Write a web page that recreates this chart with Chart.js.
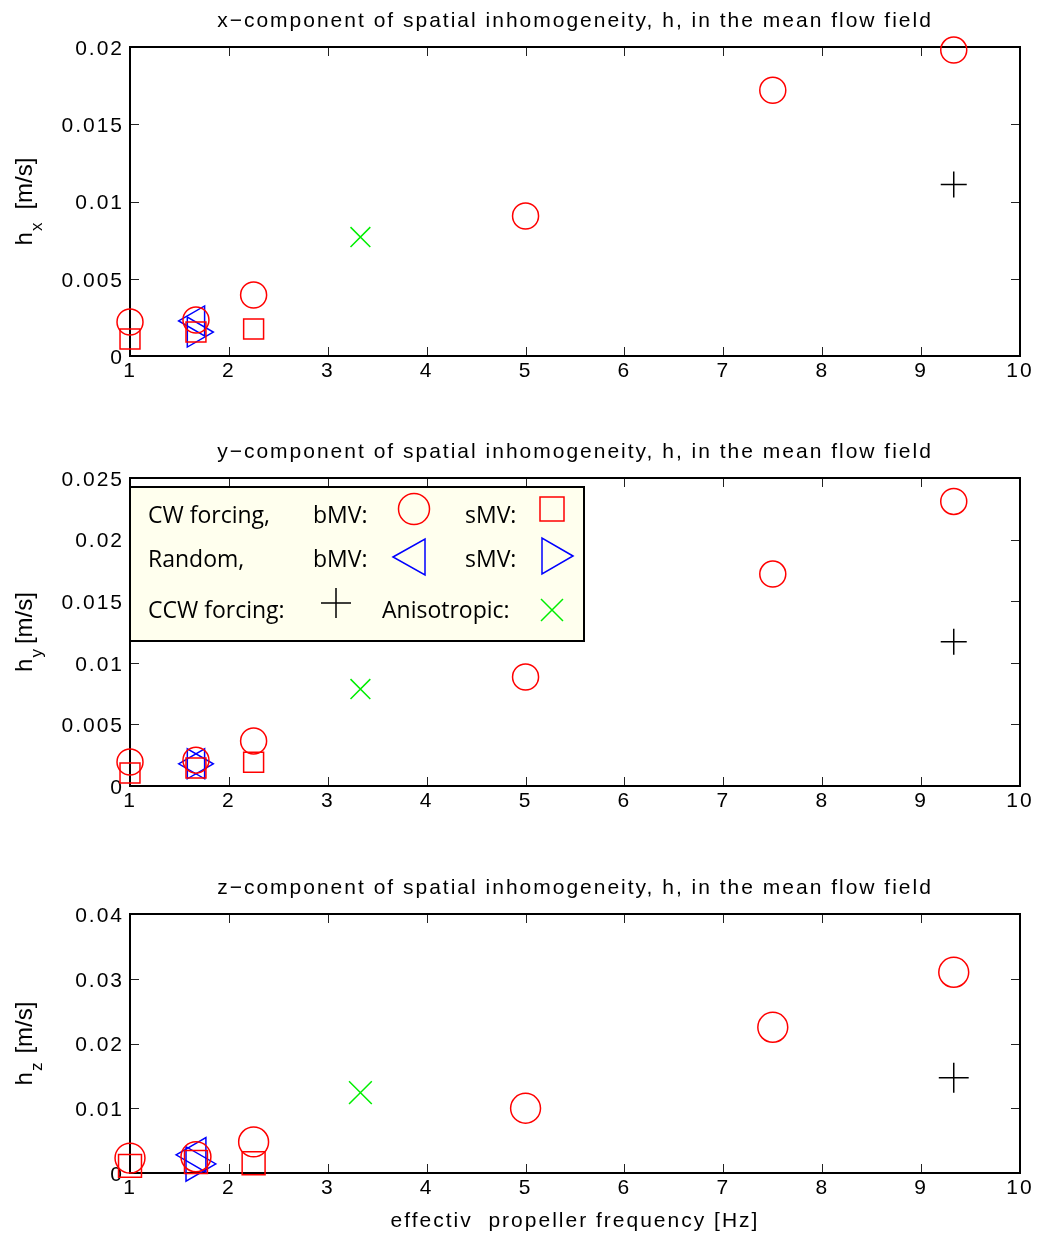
<!DOCTYPE html>
<html><head><meta charset="utf-8">
<script src="https://cdn.jsdelivr.net/npm/chart.js@4"></script>
<style>
html,body{margin:0;padding:0;background:#fff;}
#wrap{position:relative;width:1038px;height:1241px;background:#fff;}
canvas{position:absolute;left:0;top:0;}
</style></head><body>
<div id="wrap">
<canvas id="c1" width="1038" height="1241"></canvas>
<canvas id="c2" width="1038" height="1241"></canvas>
<canvas id="c3" width="1038" height="1241"></canvas>
</div>
<script>
// ---------- data ----------
const xTicks = [1, 2, 3, 4, 5, 6, 7, 8, 9, 10];
const xCWbMV = [1, 1.667, 2.25, 5, 7.5, 9.33];
const xCWsMV = [1, 1.667, 2.25];
const xRandom = [1.667];
const xCCW = [9.33];
const xAniso = [3.33];

const hxCWbMV = [0.0022, 0.00233, 0.00395, 0.00906, 0.0172, 0.0198];
const hxCWsMV = [0.0011, 0.00155, 0.00175];
const hxRandbMV = [0.00227];
const hxRandsMV = [0.00155];
const hxCCW = [0.0111];
const hxAniso = [0.0077];

const hyCWbMV = [0.00195, 0.0021, 0.00365, 0.00885, 0.0172, 0.0231];
const hyCWsMV = [0.00105, 0.00146, 0.00193];
const hyRandbMV = [0.0018];
const hyRandsMV = [0.0018];
const hyCCW = [0.0117];
const hyAniso = [0.00787];

const hzCWbMV = [0.0023, 0.0025, 0.0048, 0.0100, 0.0225, 0.0310];
const hzCWsMV = [0.0011, 0.0017, 0.0015];
const hzRandbMV = [0.0028];
const hzRandsMV = [0.0014];
const hzCCW = [0.0147];
const hzAniso = [0.0124];

const yTicksX = [0, 0.005, 0.01, 0.015, 0.02];
const yLabelsX = ['0', '0.005', '0.01', '0.015', '0.02'];
const yTicksY = [0, 0.005, 0.01, 0.015, 0.02, 0.025];
const yLabelsY = ['0', '0.005', '0.01', '0.015', '0.02', '0.025'];
const yTicksZ = [0, 0.01, 0.02, 0.03, 0.04];
const yLabelsZ = ['0', '0.01', '0.02', '0.03', '0.04'];

const titles = [
  'x\u2212component of spatial inhomogeneity, h, in the mean flow field',
  'y\u2212component of spatial inhomogeneity, h, in the mean flow field',
  'z\u2212component of spatial inhomogeneity, h, in the mean flow field'
];
const xAxisTitle = 'effectiv  propeller frequency [Hz]';

// ---------- styling ----------
const FONT = '"Liberation Sans", Arial, Helvetica, sans-serif';
const W = 1038, H = 1241;

const framePlugin = {
  id: 'frame',
  beforeLayout(chart) { chart.ctx.letterSpacing = '2px'; },
  beforeDraw(chart) { chart.ctx.letterSpacing = '2px'; },
  beforeDatasetsDraw(chart) {
    const ctx = chart.ctx, ca = chart.chartArea, xs = chart.scales.x, ys = chart.scales.y;
    ctx.save();
    ctx.strokeStyle = '#222'; ctx.lineWidth = 1;
    ctx.beginPath();
    xs.ticks.forEach(t => {
      const px = Math.round(xs.getPixelForValue(t.value)) + 0.5;
      ctx.moveTo(px, ca.bottom); ctx.lineTo(px, ca.bottom - 9);
      ctx.moveTo(px, ca.top); ctx.lineTo(px, ca.top + 9);
    });
    ys.ticks.forEach(t => {
      const py = Math.round(ys.getPixelForValue(t.value)) + 0.5;
      ctx.moveTo(ca.left, py); ctx.lineTo(ca.left + 9, py);
      ctx.moveTo(ca.right, py); ctx.lineTo(ca.right - 9, py);
    });
    ctx.stroke();
    ctx.strokeStyle = '#000'; ctx.lineWidth = 2;
    ctx.strokeRect(ca.left, ca.top, ca.right - ca.left, ca.bottom - ca.top);
    ctx.restore();
  },
  afterDraw(chart, args, o) {
    const ctx = chart.ctx, ca = chart.chartArea;
    const cx = (ca.left + ca.right) / 2, cy = (ca.top + ca.bottom) / 2;
    ctx.save();
    ctx.fillStyle = '#000';
    ctx.letterSpacing = '2px';
    ctx.font = '21px ' + FONT;
    ctx.textAlign = 'center'; ctx.textBaseline = 'alphabetic';
    ctx.fillText(o.title, cx, ca.top - 20);
    if (o.xTitle) ctx.fillText(o.xTitle, cx, ca.bottom + 54);
    // rotated y label with subscript
    ctx.letterSpacing = '0px';
    ctx.translate(32, cy);
    ctx.rotate(-Math.PI / 2);
    ctx.textAlign = 'left';
    ctx.font = '24px ' + FONT;
    const wh = ctx.measureText('h').width;
    const wr = ctx.measureText('[m/s]').width;
    ctx.font = '17px ' + FONT;
    const ws = ctx.measureText(o.sub).width;
    const total = wh + ws + o.gap + wr;
    let s = -total / 2;
    ctx.font = '24px ' + FONT;
    ctx.fillText('h', s, 0);
    ctx.font = '17px ' + FONT;
    ctx.fillText(o.sub, s + wh + 1, 10);
    ctx.font = '24px ' + FONT;
    ctx.fillText('[m/s]', s + wh + ws + o.gap, 0);
    ctx.restore();
  }
};

function circleAt(ctx, x, y, r) { ctx.beginPath(); ctx.arc(x, y, r, 0, Math.PI * 2); ctx.stroke(); }

const legendPlugin = {
  id: 'mvlegend',
  afterDraw(chart) {
    const ctx = chart.ctx;
    ctx.save();
    ctx.letterSpacing = '0px';
    ctx.fillStyle = '#ffffee';
    ctx.fillRect(130, 487, 454, 154);
    ctx.strokeStyle = '#000'; ctx.lineWidth = 2;
    ctx.strokeRect(130, 487, 454, 154);
    ctx.fillStyle = '#000';
    ctx.font = '23px "Open Sans", "Noto Sans", sans-serif';
    ctx.textAlign = 'left'; ctx.textBaseline = 'alphabetic';
    ctx.fillText('CW forcing,', 148, 523);
    ctx.fillText('bMV:', 313, 523);
    ctx.fillText('sMV:', 465, 523);
    ctx.fillText('Random,', 148, 567);
    ctx.fillText('bMV:', 313, 567);
    ctx.fillText('sMV:', 465, 567);
    ctx.fillText('CCW forcing:', 148, 618);
    ctx.fillText('Anisotropic:', 382, 618);
    ctx.lineWidth = 1.5;
    ctx.strokeStyle = '#ff0000';
    circleAt(ctx, 414, 509, 15.5);
    ctx.strokeRect(540, 497, 24, 24);
    ctx.strokeStyle = '#0000ff';
    ctx.beginPath(); ctx.moveTo(393, 557); ctx.lineTo(425, 539); ctx.lineTo(425, 575); ctx.closePath(); ctx.stroke();
    ctx.beginPath(); ctx.moveTo(573, 556); ctx.lineTo(542, 538); ctx.lineTo(542, 574); ctx.closePath(); ctx.stroke();
    ctx.strokeStyle = '#000';
    ctx.beginPath(); ctx.moveTo(321, 603); ctx.lineTo(351, 603); ctx.moveTo(336, 588); ctx.lineTo(336, 618); ctx.stroke();
    ctx.strokeStyle = '#00ee00';
    ctx.beginPath(); ctx.moveTo(541, 599); ctx.lineTo(563, 621); ctx.moveTo(563, 599); ctx.lineTo(541, 621); ctx.stroke();
    ctx.restore();
  }
};

function pts(xs, ys) { return xs.map((x, i) => ({ x: x, y: ys[i] })); }

function makePanel(id, p) {
  const k = p.scale;
  const base = { showLine: false, backgroundColor: 'rgba(0,0,0,0)', pointBackgroundColor: 'rgba(0,0,0,0)', pointBorderWidth: 1.5, clip: false };
  const datasets = [
    Object.assign({}, base, { label: 'CW bMV', data: pts(xCWbMV, p.cwb), pointStyle: 'circle', pointRadius: 13 * k, pointBorderColor: '#ff0000', borderColor: '#ff0000' }),
    Object.assign({}, base, { label: 'CW sMV', data: pts(xCWsMV, p.cws), pointStyle: 'rect', pointRadius: 14.1 * k, pointBorderColor: '#ff0000', borderColor: '#ff0000' }),
    Object.assign({}, base, { label: 'Random bMV', data: pts(xRandom, p.rb), pointStyle: 'triangle', pointRotation: -90, pointRadius: 17.3 * k, pointBorderColor: '#0000ff', borderColor: '#0000ff' }),
    Object.assign({}, base, { label: 'Random sMV', data: pts(xRandom, p.rs), pointStyle: 'triangle', pointRotation: 90, pointRadius: 17.3 * k, pointBorderColor: '#0000ff', borderColor: '#0000ff' }),
    Object.assign({}, base, { label: 'CCW', data: pts(xCCW, p.ccw), pointStyle: 'cross', pointRadius: 13 * k, pointBorderColor: '#000000', borderColor: '#000000' }),
    Object.assign({}, base, { label: 'Anisotropic', data: pts(xAniso, p.an), pointStyle: 'crossRot', pointRadius: 14 * k, pointBorderColor: '#00ee00', borderColor: '#00ee00' })
  ];
  const plugins = [framePlugin];
  if (p.legend) plugins.push(legendPlugin);
  return new Chart(document.getElementById(id), {
    type: 'scatter',
    data: { datasets },
    options: {
      responsive: false, animation: false, devicePixelRatio: 1,
      events: [],
      layout: { autoPadding: false, padding: { left: 0, right: W - 1020, top: p.top, bottom: H - p.bottom - 40 } },
      plugins: { legend: { display: false }, tooltip: { enabled: false }, frame: { title: p.title, sub: p.sub, gap: p.gap, xTitle: p.xTitle } },
      scales: {
        x: {
          type: 'linear', min: 1, max: 10,
          grid: { display: false, drawTicks: false, tickLength: 0 }, border: { display: false },
          afterBuildTicks(sc) { sc.ticks = xTicks.map(v => ({ value: v })); },
          afterFit(sc) { sc.height = 40; },
          ticks: { color: '#000', font: { family: FONT, size: 21 }, padding: 3, maxRotation: 0, autoSkip: false, callback: v => String(v) }
        },
        y: {
          type: 'linear', min: 0, max: p.ymax,
          grid: { display: false, drawTicks: false, tickLength: 0 }, border: { display: false },
          afterBuildTicks(sc) { sc.ticks = p.yt.map(v => ({ value: v })); },
          afterFit(sc) { sc.width = 130; },
          ticks: { color: '#000', font: { family: FONT, size: 21 }, padding: 6, autoSkip: false, labelOffset: 2, callback: (v, i) => p.yl[i] }
        }
      }
    },
    plugins
  });
}

makePanel('c1', { top: 47, bottom: 356, ymax: 0.02, yt: yTicksX, yl: yLabelsX, title: titles[0], sub: 'x', gap: 14, scale: 1,
  cwb: hxCWbMV, cws: hxCWsMV, rb: hxRandbMV, rs: hxRandsMV, ccw: hxCCW, an: hxAniso });
makePanel('c2', { top: 478, bottom: 786, ymax: 0.025, yt: yTicksY, yl: yLabelsY, title: titles[1], sub: 'y', gap: 6, scale: 1, legend: true,
  cwb: hyCWbMV, cws: hyCWsMV, rb: hyRandbMV, rs: hyRandsMV, ccw: hyCCW, an: hyAniso });
makePanel('c3', { top: 914, bottom: 1173, ymax: 0.04, yt: yTicksZ, yl: yLabelsZ, title: titles[2], sub: 'z', gap: 10, scale: 1.15, xTitle: xAxisTitle,
  cwb: hzCWbMV, cws: hzCWsMV, rb: hzRandbMV, rs: hzRandsMV, ccw: hzCCW, an: hzAniso });
</script>
</body></html>
